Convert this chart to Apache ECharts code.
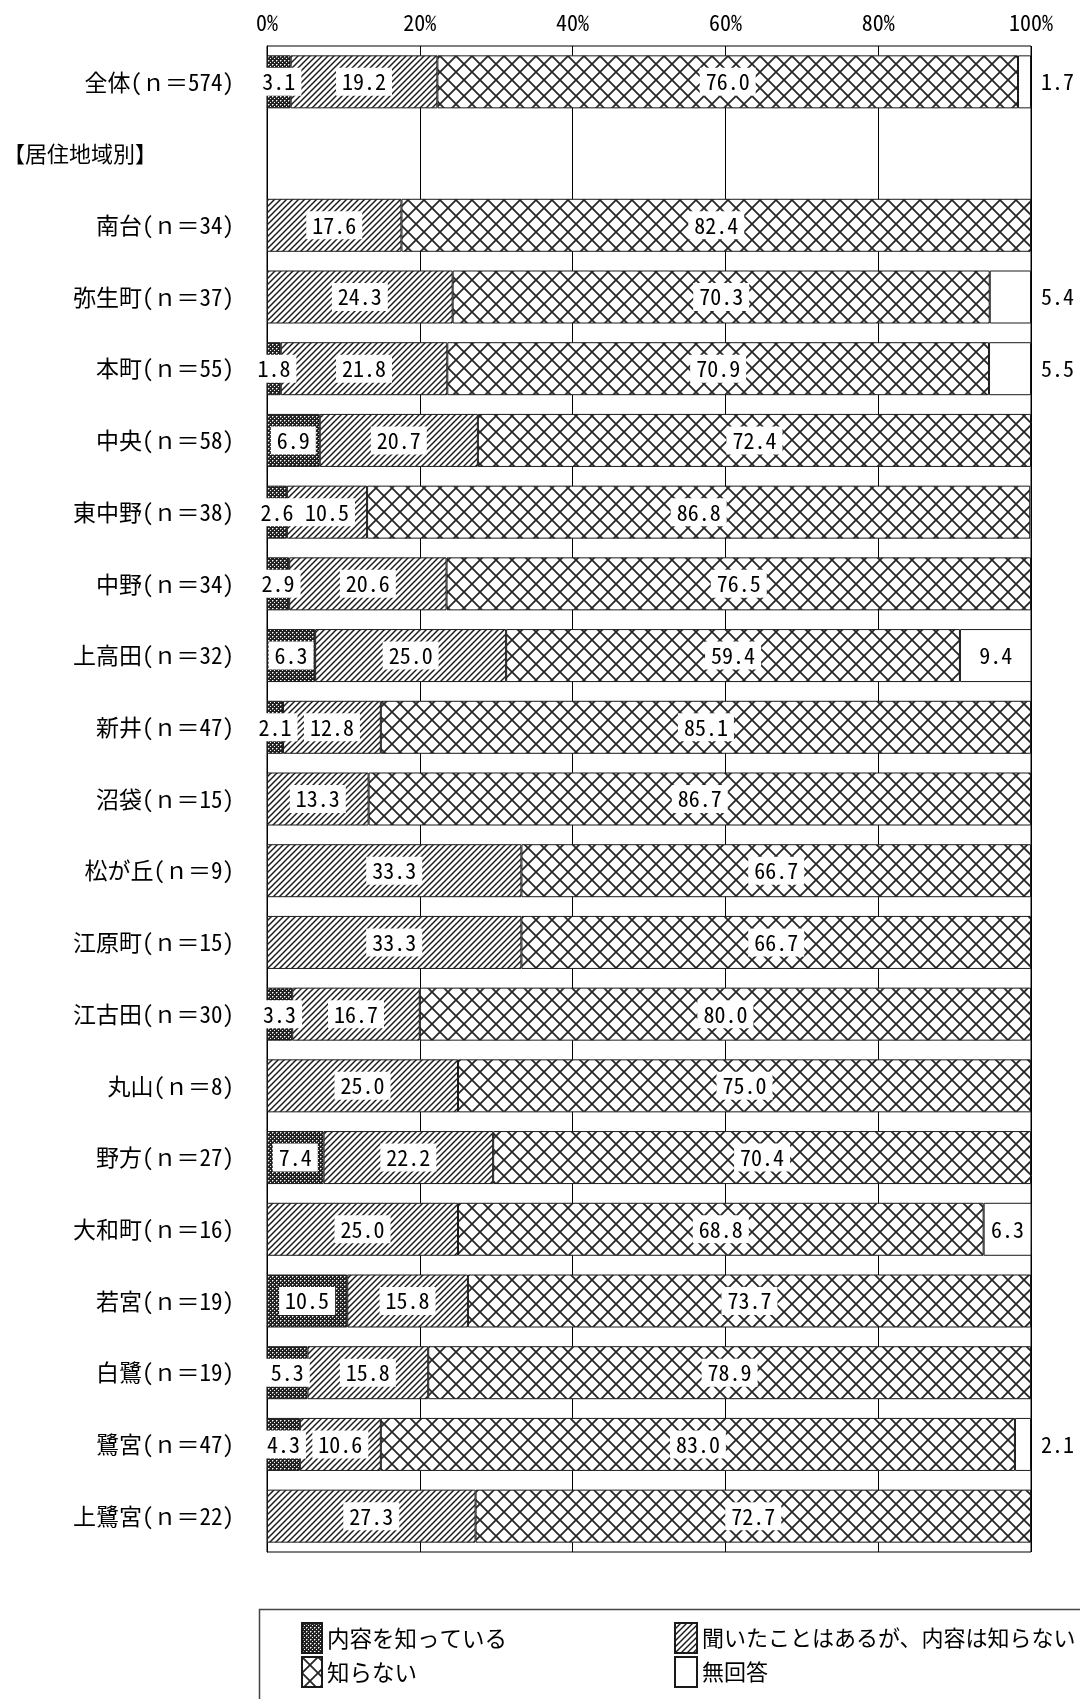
<!DOCTYPE html>
<html><head><meta charset="utf-8">
<script src="https://cdn.jsdelivr.net/npm/echarts@6/dist/echarts.min.js"></script>
<style>html,body{margin:0;padding:0;background:#fff}#c{width:1080px;height:1699px}</style>
</head><body><div id="c"></div>
<script>
// ---- data ----
const categories = [
  '全体(ｎ＝574)', '【居住地域別】',
  '南台(ｎ＝34)', '弥生町(ｎ＝37)', '本町(ｎ＝55)', '中央(ｎ＝58)',
  '東中野(ｎ＝38)', '中野(ｎ＝34)', '上高田(ｎ＝32)', '新井(ｎ＝47)',
  '沼袋(ｎ＝15)', '松が丘(ｎ＝9)', '江原町(ｎ＝15)', '江古田(ｎ＝30)',
  '丸山(ｎ＝8)', '野方(ｎ＝27)', '大和町(ｎ＝16)', '若宮(ｎ＝19)',
  '白鷺(ｎ＝19)', '鷺宮(ｎ＝47)', '上鷺宮(ｎ＝22)'
];
const seriesNames = ['内容を知っている', '聞いたことはあるが、内容は知らない', '知らない', '無回答'];
const known    = [3.1, null, null, null, 1.8, 6.9, 2.6, 2.9, 6.3, 2.1, null, null, null, 3.3, null, 7.4, null, 10.5, 5.3, 4.3, null];
const heard    = [19.2, null, 17.6, 24.3, 21.8, 20.7, 10.5, 20.6, 25.0, 12.8, 13.3, 33.3, 33.3, 16.7, 25.0, 22.2, 25.0, 15.8, 15.8, 10.6, 27.3];
const unknown  = [76.0, null, 82.4, 70.3, 70.9, 72.4, 86.8, 76.5, 59.4, 85.1, 86.7, 66.7, 66.7, 80.0, 75.0, 70.4, 68.8, 73.7, 78.9, 83.0, 72.7];
const noAnswer = [1.7, null, null, 5.4, 5.5, null, null, null, 9.4, null, null, null, null, null, null, null, 6.3, null, null, 2.1, null];
const xTicks = [0, 20, 40, 60, 80, 100];
const headerCategory = '【居住地域別】';

// ---- patterns ----
function tile(size, draw) {
  const c = document.createElement('canvas');
  c.width = size; c.height = size;
  const g = c.getContext('2d');
  g.fillStyle = '#fff'; g.fillRect(0, 0, size, size);
  draw(g, size);
  return { image: c, repeat: 'repeat' };
}
const patDark = tile(4, (g) => {
  g.fillStyle = '#222'; g.fillRect(0, 0, 4, 4);
  g.fillStyle = '#ffffff'; g.fillRect(0, 0, 1, 1); g.fillRect(2, 2, 1, 1);
  g.fillStyle = '#8a8a8a'; g.fillRect(1, 0, 1, 1); g.fillRect(0, 1, 1, 1);
});
const patHatch = tile(6, (g, s) => {
  g.strokeStyle = '#1e1e1e'; g.lineWidth = 1.5;
  g.beginPath();
  g.moveTo(-1, s + 1); g.lineTo(s + 1, -1);
  g.moveTo(-1, 1); g.lineTo(1, -1);
  g.moveTo(s - 1, s + 1); g.lineTo(s + 1, s - 1);
  g.stroke();
});
const patLattice = tile(16, (g, s) => {
  g.strokeStyle = '#262626'; g.lineWidth = 1.8;
  g.beginPath();
  g.moveTo(0, 0); g.lineTo(s, s);
  g.moveTo(s, 0); g.lineTo(0, s);
  g.stroke();
});
const fills = [patDark, patHatch, patLattice, '#ffffff'];

const MONOFONT = "'Noto Sans Mono CJK JP', 'Noto Sans CJK JP', sans-serif";
const JPFONT = "'Noto Sans CJK JP', sans-serif";

const baseLabel = {
  show: true, position: 'inside', color: '#000', fontSize: 22, fontFamily: MONOFONT,
  backgroundColor: '#fff', padding: [3, 6],
  formatter: (p) => (p.value == null ? '' : Number(p.value).toFixed(1))
};

function buildData(arr, isNoAnswer) {
  return arr.map((v) => {
    if (v == null) return { value: null };
    if (isNoAnswer && v < 6) {
      return { value: v, label: { position: 'right', distance: 10, backgroundColor: 'transparent', padding: 0 } };
    }
    return { value: v };
  });
}

const allSeries = [known, heard, unknown, noAnswer].map((arr, i) => ({
  name: seriesNames[i],
  type: 'bar',
  stack: 'total',
  barWidth: 53,
  data: buildData(arr, i === 3),
  itemStyle: { color: fills[i], borderColor: '#1a1a1a', borderWidth: 1 },
  label: baseLabel,
  emphasis: { disabled: true }
}));

const chart = echarts.init(document.getElementById('c'), null, { renderer: 'canvas' });
chart.setOption({
  backgroundColor: '#fff',
  animation: false,
  grid: { left: 263, right: 49, top: 46, bottom: 147, show: true, borderColor: '#000', borderWidth: 1, backgroundColor: 'transparent' },
  xAxis: {
    type: 'value', position: 'top', min: xTicks[0], max: xTicks[xTicks.length - 1], interval: xTicks[1] - xTicks[0],
    axisLine: { show: false }, axisTick: { show: false },
    splitLine: { show: true, lineStyle: { color: '#000', width: 1 } },
    axisLabel: { formatter: '{value}%', color: '#000', fontSize: 22, fontFamily: MONOFONT, margin: 12 }
  },
  yAxis: {
    type: 'category', inverse: true, data: categories,
    axisLine: { show: true, lineStyle: { color: '#000' } }, axisTick: { show: false },
    axisLabel: {
      color: '#000', fontSize: 23, fontFamily: MONOFONT, margin: 33,
      formatter: (v) => (v === headerCategory ? '{h|' + v + '}' : v),
      rich: { h: { fontSize: 22, fontFamily: JPFONT, color: '#000', padding: [0, 77, 0, 0] } }
    }
  },
  legend: [
    { data: [seriesNames[0], seriesNames[2]], orient: 'vertical', left: 296, top: 1617,
      itemWidth: 20, itemHeight: 30, itemGap: 2, icon: 'rect', selectedMode: false,
      textStyle: { fontSize: 22.5, fontFamily: JPFONT, color: '#000' } },
    { data: [seriesNames[1], seriesNames[3]], orient: 'vertical', left: 669, top: 1617,
      itemWidth: 22, itemHeight: 30, itemGap: 2, icon: 'rect', selectedMode: false,
      textStyle: { fontSize: 22, fontFamily: JPFONT, color: '#000' } }
  ],
  graphic: [{
    type: 'rect', silent: true,
    shape: { x: 259.5, y: 1609.5, width: 900, height: 200 },
    style: { fill: 'none', stroke: '#444', lineWidth: 1.5 }
  }],
  series: allSeries
});
</script></body></html>
